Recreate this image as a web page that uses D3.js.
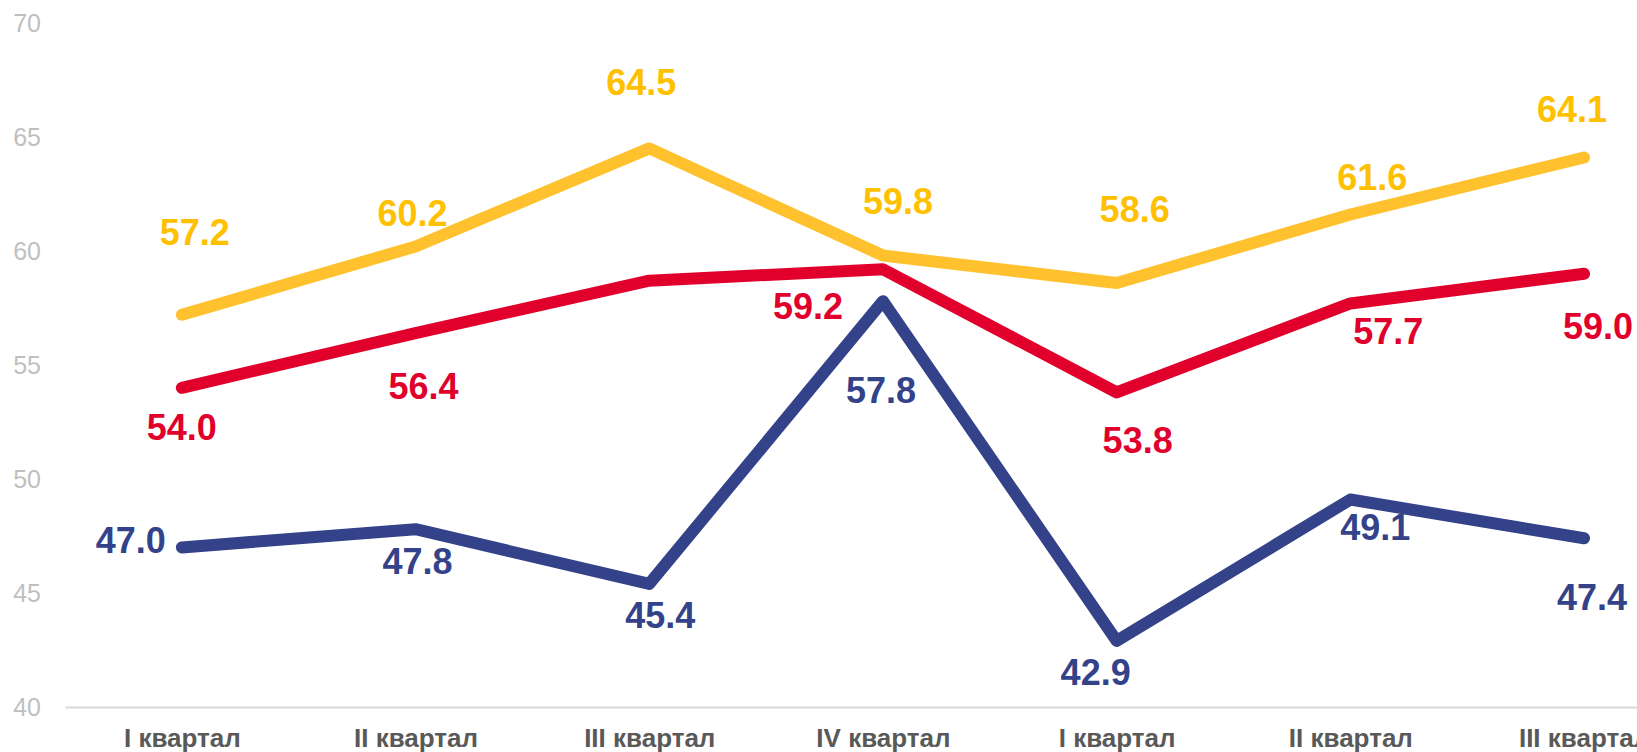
<!DOCTYPE html>
<html>
<head>
<meta charset="utf-8">
<script src="https://cdn.jsdelivr.net/npm/d3@7"></script>
<style>
  html, body { margin: 0; padding: 0; background: #fff; overflow: hidden; }
  svg { display: block; font-family: "Liberation Sans", Arial, sans-serif; }
</style>
</head>
<body>
<div id="chart"></div>
<script>
// Data
const quarters = ["I квартал", "II квартал", "III квартал", "IV квартал", "I квартал", "II квартал", "III квартал"];
const yellowValues = [57.2, 60.2, 64.5, 59.8, 58.6, 61.6, 64.1];
const redValues = [54.0, 56.4, 58.7, 59.2, 53.8, 57.7, 59.0];
const blueValues = [47.0, 47.8, 45.4, 57.8, 42.9, 49.1, 47.4];
const yTicks = [40, 45, 50, 55, 60, 65, 70];

// label is hidden for the red III квартал point in the original
const redHidden = [2];

// label nudges (px, relative to the point) - hand placed in the original
const yellowNudge = [[13, -82], [-3, -33], [-8, -66], [15, -54], [18, -74], [22, -37], [-12, -48]];
const redNudge = [[0, 40], [8, 53], [0, 0], [-75, 37], [21, 48], [38, 28], [14, 53]];
const blueNudge = [[-51, -7], [2, 32], [11, 32], [-2, 89], [-21, 32], [25, 28], [8, 59]];

// SVG constants
const chartWidth = 1637, chartHeight = 752;
const plotLeft = 65, plotBottom = 707, plotTop = 23;

const svg = d3.select("#chart")
  .append("svg")
  .attr("width", chartWidth)
  .attr("height", chartHeight);

const x = d3.scalePoint()
  .domain(d3.range(quarters.length))
  .range([plotLeft, plotLeft + 7 * 233.7])
  .padding(0.5);

const y = d3.scaleLinear()
  .domain([40, 70])
  .range([plotBottom, plotTop]);

// y axis labels, no line
svg.append("g")
  .attr("transform", "translate(41,0)")
  .call(d3.axisLeft(y).tickValues(yTicks).tickSize(0).tickPadding(0))
  .call(g => g.select(".domain").remove())
  .call(g => g.selectAll("text")
    .attr("fill", "#BFBFBF")
    .style("font-size", "25px")
    .style("font-family", "'Liberation Sans', Arial, sans-serif"));

// x axis (last label runs off the right edge, as in the original)
svg.append("g")
  .attr("transform", `translate(0,${plotBottom})`)
  .call(d3.axisBottom(x).tickSize(0).tickSizeOuter(0).tickPadding(22).tickFormat(i => quarters[i]))
  .call(g => g.select(".domain")
    .attr("stroke", "#D9D9D9")
    .attr("stroke-width", 2))
  .call(g => g.selectAll("text")
    .attr("fill", "#595959")
    .style("font-size", "26px")
    .style("font-weight", "bold")
    .style("font-family", "'Liberation Sans', Arial, sans-serif"));

const line = d3.line()
  .x((d, i) => x(i))
  .y(d => y(d));

const series = [
  { values: yellowValues, stroke: "#FFC22E", text: "#FFC000", nudge: yellowNudge, hidden: [] },
  { values: redValues, stroke: "#E1002C", text: "#E1002C", nudge: redNudge, hidden: redHidden },
  { values: blueValues, stroke: "#344389", text: "#344389", nudge: blueNudge, hidden: [] }
];

series.forEach(s => {
  svg.append("path")
    .datum(s.values)
    .attr("fill", "none")
    .attr("stroke", s.stroke)
    .attr("stroke-width", 12)
    .attr("stroke-linecap", "round")
    .attr("stroke-linejoin", "round")
    .attr("d", line);
});

series.forEach(s => {
  svg.append("g")
    .selectAll("text")
    .data(s.values.map((v, i) => ({ v, i })).filter(d => !s.hidden.includes(d.i)))
    .join("text")
    .attr("x", d => x(d.i) + s.nudge[d.i][0])
    .attr("y", d => y(d.v) + s.nudge[d.i][1])
    .attr("dy", "0.35em")
    .attr("text-anchor", "middle")
    .attr("fill", s.text)
    .style("font-size", "36px")
    .style("font-weight", "bold")
    .text(d => d3.format(".1f")(d.v));
});
</script>
</body>
</html>
